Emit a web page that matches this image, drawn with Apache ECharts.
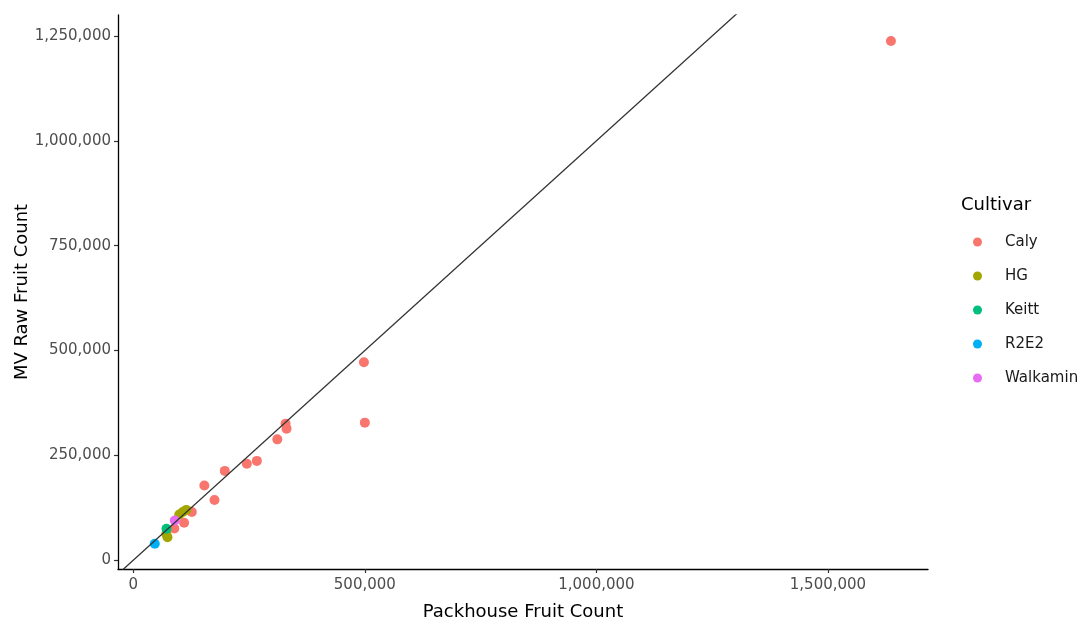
<!DOCTYPE html>
<html>
<head>
<meta charset="utf-8">
<title>MV Raw Fruit Count vs Packhouse Fruit Count</title>
<script src="https://cdn.jsdelivr.net/npm/echarts@6/dist/echarts.min.js"></script>
<style>
  html, body { margin: 0; padding: 0; background: #ffffff; }
  #chart { width: 1086px; height: 621px; }
</style>
</head>
<body>
<div id="chart"></div>
<script>
// Orchard blocks: [packhouse fruit count, machine-vision raw fruit count]
const cultivars = ['Caly', 'HG', 'Keitt', 'R2E2', 'Walkamin'];
const colors = ['#F8766D', '#A3A500', '#00BF7D', '#00B0F6', '#E76BF3'];

const caly = [
  [1636000, 1238000], [498000, 472000], [500000, 328000],
  [328800, 325600], [330900, 313700], [311000, 288100],
  [266800, 236800], [245200, 230100], [197600, 212900],
  [153400, 178300], [175400, 143700], [126400, 115100],
  [109700, 89300], [88600, 75700]
];
const hg = [
  [99400, 108800], [106900, 115100], [114500, 119900],
  [73900, 54900], [71300, 62500]
];
const keitt = [[71700, 75000]];
const r2e2 = [[46400, 39100]];
const walkamin = [[89600, 94800]];

const seriesData = [caly, hg, keitt, r2e2, walkamin];

const xTicks = [0, 500000, 1000000, 1500000];
const yTicks = [0, 250000, 500000, 750000, 1000000, 1250000];

const xRange = [-33000, 1716000];
const yRange = [-21000, 1300000];

// 1:1 reference line
const identityLine = [[-60000, -60000], [1400000, 1400000]];

const FONT = 'DejaVu Sans';
const fmt = v => String(v).replace(/\B(?=(\d{3})+(?!\d))/g, ',');

const chart = echarts.init(document.getElementById('chart'), null, { renderer: 'canvas' });

const scatterSeries = cultivars.map((name, i) => ({
  name: name,
  type: 'scatter',
  data: seriesData[i],
  symbol: 'circle',
  symbolSize: 10,
  itemStyle: { color: colors[i], opacity: 1 },
  z: 2
}));

chart.setOption({
  animation: false,
  backgroundColor: '#ffffff',
  title: {
    text: 'Cultivar',
    left: 961,
    top: 196,
    padding: 0,
    textStyle: { fontFamily: FONT, fontSize: 18, fontWeight: 'normal', color: '#000000' }
  },
  legend: {
    data: cultivars,
    orient: 'vertical',
    left: 973,
    top: 234,
    padding: 0,
    icon: 'circle',
    itemWidth: 9,
    itemHeight: 9,
    itemGap: 18,
    textStyle: {
      fontFamily: FONT, fontSize: 15, color: '#1a1a1a', lineHeight: 16,
      padding: [0, 0, 0, 18]
    }
  },
  grid: { left: 118, right: 158, top: 15, bottom: 52, containLabel: false, outerBoundsMode: 'none' },
  xAxis: {
    type: 'value',
    min: xRange[0],
    max: xRange[1],
    name: 'Packhouse Fruit Count',
    nameLocation: 'middle',
    nameGap: 34,
    nameMoveOverlap: false,
    nameTextStyle: { fontFamily: FONT, fontSize: 18, color: '#000000' },
    splitLine: { show: false },
    axisLine: { show: true, onZero: false, lineStyle: { color: '#000000', width: 1.3 } },
    axisTick: { show: true, length: 4, customValues: xTicks, lineStyle: { color: '#333333', width: 1.2 } },
    axisLabel: {
      customValues: xTicks,
      margin: 9,
      fontFamily: FONT,
      fontSize: 15,
      color: '#4D4D4D',
      formatter: fmt
    }
  },
  yAxis: {
    type: 'value',
    min: yRange[0],
    max: yRange[1],
    name: 'MV Raw Fruit Count',
    nameLocation: 'middle',
    nameGap: 87,
    nameMoveOverlap: false,
    nameTextStyle: { fontFamily: FONT, fontSize: 18, color: '#000000' },
    splitLine: { show: false },
    axisLine: { show: true, onZero: false, lineStyle: { color: '#000000', width: 1.3 } },
    axisTick: { show: true, length: 4, customValues: yTicks, lineStyle: { color: '#333333', width: 1.2 } },
    axisLabel: {
      customValues: yTicks,
      margin: 7,
      fontFamily: FONT,
      fontSize: 15,
      color: '#4D4D4D',
      formatter: fmt
    }
  },
  series: scatterSeries.concat([{
    name: '1:1',
    type: 'line',
    data: identityLine,
    symbol: 'none',
    clip: true,
    silent: true,
    lineStyle: { color: '#333333', width: 1.3 },
    z: 3
  }])
});
</script>
</body>
</html>
